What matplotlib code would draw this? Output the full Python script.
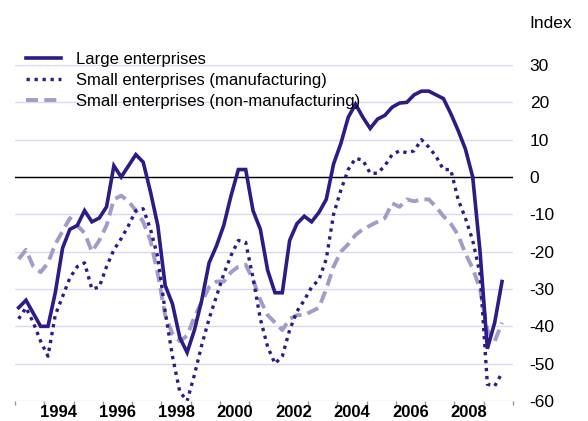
"""Business conditions index for large and small enterprises, 1993-2009."""
import matplotlib.pyplot as plt

# Quarterly observations, first quarter 1993 to third quarter 2009
first_year = 1993
large = [-35, -33, -36.5, -40, -40, -31, -19, -14, -13, -9, -12, -11, -8,
         3, 0, 3, 6, 4, -4, -13, -29, -34, -43, -47, -41, -33, -23, -18.5,
         -13, -5, 2, 2, -9, -14, -25, -31, -31, -17, -12.5, -10.5, -12, -9.5,
         -6, 3.5, 9, 16, 19.5, 16, 13, 15.5, 16.5, 18.7, 19.8, 20, 22, 23,
         23, 22, 21, 17, 12.5, 7.5, 0, -20, -46, -39, -28]
small_manuf = [-38, -35, -39, -44, -48, -37, -32, -27, -24, -23, -30, -29.5,
               -24, -19.5, -16.5, -13, -9, -8.5, -14, -21.5, -36, -48, -57.5,
               -60, -53, -45, -38, -32, -26, -21, -17, -17.5, -27, -38,
               -45.5, -50, -48, -41, -36, -33, -29.5, -27.5, -22, -10, -3.5,
               2, 5, 4.5, 1, 1, 3, 6, 7, 6.5, 7, 10, 8, 5.5, 2, 2, -6, -11,
               -17, -26, -55.5, -56, -52.5]
small_nonmanuf = [-22, -19.5, -24, -25.5, -23, -18, -14.5, -11, -13, -15, -20,
                  -17, -13, -6, -5, -6.5, -9, -12, -17, -26, -37, -42, -44,
                  -42.5, -37.5, -33.5, -29.5, -28, -28, -25.5, -24, -23.5,
                  -27.5, -33, -37, -39, -41, -38, -37, -37, -36, -35, -30,
                  -24, -20, -18, -15.5, -14, -13, -12, -11, -7, -8, -6, -6.5,
                  -6, -6, -8, -10.5, -12.5, -15.5, -20.5, -24.5, -30, -41,
                  -44, -39]

series_names = ['Large enterprises',
                'Small enterprises (manufacturing)',
                'Small enterprises (non-manufacturing)']
year_labels = [1994, 1996, 1998, 2000, 2002, 2004, 2006, 2008]
y_ticks = [-60, -50, -40, -30, -20, -10, 0, 10, 20, 30]

dark = '#2d1b86'
light = '#a49bcb'
grid = '#dcd8ee'

plt.rcParams['font.family'] = ['Liberation Sans', 'DejaVu Sans']
plt.rcParams['axes.unicode_minus'] = False

fig = plt.figure(figsize=(5.88, 4.21), dpi=100)
ax = fig.add_axes([15 / 588, 20 / 421, 498 / 588, 336 / 421])

# quarters plotted at the middle of each quarter
x = [first_year + 0.125 + 0.25 * i for i in range(len(large))]

for v in y_ticks:
    ax.axhline(v, color=grid, lw=1, zorder=0)
ax.axhline(0, color='black', lw=1, zorder=1)

ax.plot(x, small_nonmanuf, color=light, lw=2.8, linestyle=(0, (3.1, 1.6)),
        dash_capstyle='butt', label=series_names[2], zorder=2)
ax.plot(x, small_manuf, color=dark, lw=2.4, linestyle=(0, (1, 1.4)),
        dash_capstyle='butt', label=series_names[1], zorder=3)
ax.plot(x, large, color=dark, lw=2.6, solid_joinstyle='miter',
        label=series_names[0], zorder=4)

ax.set_xlim(1993, 2010)
ax.set_ylim(-60, 30)
for s in ax.spines.values():
    s.set_visible(False)

# year boundaries as tick marks, labels in the middle of the years
ax.set_xticks(range(1993, 2011))
ax.set_xticklabels([])
ax.set_xticks([y + 0.5 for y in year_labels], minor=True)
ax.set_xticklabels([str(y) for y in year_labels], minor=True,
                   fontsize=12, fontweight='bold')
ax.tick_params(axis='x', which='major', length=3, color='#999999', width=1)
ax.tick_params(axis='x', which='minor', length=0, pad=3)

ax.yaxis.tick_right()
ax.set_yticks(y_ticks)
ax.set_yticklabels([str(v) for v in y_ticks], fontsize=12.5)
ax.tick_params(axis='y', length=0, pad=12)

fig.text(529 / 588, 1 - 23 / 421, 'Index', fontsize=12.5, va='center', ha='left')

handles, labels = ax.get_legend_handles_labels()
order = [2, 1, 0]
fig.legend([handles[i] for i in order], [labels[i] for i in order],
           loc='upper left', bbox_to_anchor=(26 / 588, 1 - 52 / 421),
           frameon=False, fontsize=12, borderpad=0, borderaxespad=0,
           handlelength=2.1, handletextpad=0.9, labelspacing=0.35)

fig.savefig('out.png', dpi=100)
